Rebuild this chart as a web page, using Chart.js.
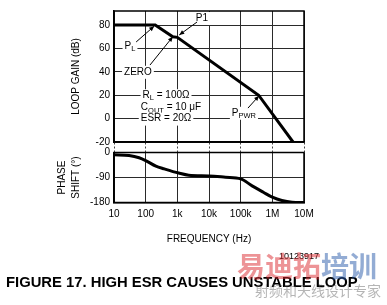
<!DOCTYPE html>
<html><head><meta charset="utf-8">
<script src="https://cdn.jsdelivr.net/npm/chart.js@4.4.1/dist/chart.umd.min.js"></script>
<style>
html,body{margin:0;padding:0;background:#fff}
body{width:387px;height:305px;overflow:hidden;position:relative;font-family:"Liberation Sans",Arial,sans-serif}
canvas{position:absolute;left:0;top:0}
.t{position:absolute;white-space:nowrap;line-height:1}
#num{left:279px;top:252px;font-size:9px;color:#000}
#fig{left:6px;top:275px;font-size:14.8px;font-weight:bold;color:#000}
#wm1{left:237px;top:251px;font-size:28px;font-weight:bold;color:rgba(220,40,45,0.5);font-family:"Noto Sans CJK SC",sans-serif}
#wm1 span{color:rgba(40,90,170,0.5)}
#wm2{left:255px;top:283px;font-size:14px;color:rgba(90,90,90,0.45);font-family:"Noto Sans CJK SC",sans-serif}
</style></head>
<body>
<canvas id="c1" width="387" height="305"></canvas>
<canvas id="c2" width="387" height="305"></canvas>
<div class="t" id="fig">FIGURE 17. HIGH ESR CAUSES UNSTABLE LOOP</div>
<div class="t" id="num">10123917</div>
<div class="t" id="wm1">易迪拓<span>培训</span></div>
<div class="t" id="wm2">射频和天线设计专家</div>
<script>
// ---- data ----
const freqTicks = [10, 100, 1e3, 1e4, 1e5, 1e6, 1e7];
const freqTickLabels = ['10', '100', '1k', '10k', '100k', '1M', '10M'];
const gainTicks = [-20, 0, 20, 40, 60, 80];
const phaseTicks = [-180, -90, 0];
const gainFreq = [10, 200, 720, 1000, 370000, 4500000];
const gainDb = [80, 80, 70, 69.5, 20, -20];
const phaseFreq = [10, 30, 62, 100, 210, 390, 1100, 2300, 10000, 33000, 100000, 230000, 520000, 1000000, 2000000, 4200000, 10000000];
const phaseDeg = [-8, -11, -19, -29, -49, -59, -74, -82, -84.5, -89, -95, -120, -143, -161, -173, -179, -180];

const FONT = "'Liberation Sans', Arial, sans-serif";
const gridColor = '#2a2a2a';

function frame(ctx, a) {
  ctx.save();
  ctx.strokeStyle = '#000';
  ctx.lineWidth = 1.5;
  ctx.strokeRect(a.left, a.top, a.right - a.left, a.bottom - a.top);
  ctx.restore();
}
const framePlugin = {
  id: 'frame',
  beforeDatasetsDraw(chart) { frame(chart.ctx, chart.chartArea); }
};

function rich(ctx, segs, cx, cy) {
  const main = '10px ' + FONT, sub = '7.5px ' + FONT;
  let w = 0;
  segs.forEach(s => { ctx.font = s[1] ? sub : main; s.w = ctx.measureText(s[0]).width; w += s.w; });
  ctx.fillStyle = '#fff';
  ctx.fillRect(cx - w / 2 - 2, cy - 6, w + 4, 13);
  let x = cx - w / 2;
  ctx.fillStyle = '#000';
  ctx.textBaseline = 'middle';
  ctx.textAlign = 'left';
  segs.forEach(s => {
    ctx.font = s[1] ? sub : main;
    ctx.fillText(s[0], x, cy + (s[1] ? 3 : 0));
    x += s.w;
  });
}
function arrow(ctx, x1, y1, x2, y2) {
  ctx.save();
  ctx.strokeStyle = '#000';
  ctx.fillStyle = '#000';
  ctx.lineWidth = 1;
  ctx.beginPath(); ctx.moveTo(x1, y1); ctx.lineTo(x2, y2); ctx.stroke();
  const a = Math.atan2(y2 - y1, x2 - x1), L = 5, W = 2.2;
  ctx.beginPath();
  ctx.moveTo(x2, y2);
  ctx.lineTo(x2 - L * Math.cos(a) + W * Math.sin(a), y2 - L * Math.sin(a) - W * Math.cos(a));
  ctx.lineTo(x2 - L * Math.cos(a) - W * Math.sin(a), y2 - L * Math.sin(a) + W * Math.cos(a));
  ctx.closePath(); ctx.fill();
  ctx.restore();
}

// annotations in data coordinates (freq, dB)
const labels = [
  { segs: [['P'], ['L', 1]], f: 32, v: 62 },
  { segs: [['ZERO']], f: 57, v: 40 },
  { segs: [['R'], ['L', 1], [' = 100\u03A9']], f: 440, v: 20 },
  { segs: [['C'], ['OUT', 1], [' = 10 \u03BCF']], f: 630, v: 9.5 },
  { segs: [['ESR = 20\u03A9']], f: 440, v: 0 },
  { segs: [['P1']], f: 6000, v: 86 },
  { segs: [['P'], ['PWR', 1]], f: 127000, v: 5 }
];
const arrows = [
  [50, 65.5, 185, 79],
  [137, 45.8, 720, 70],
  [4200, 82.6, 1150, 71.5],
  [170000, 9, 380000, 19.5]
];
const annotPlugin = {
  id: 'annot',
  afterDraw(chart) {
    const ctx = chart.ctx, xs = chart.scales.x, ys = chart.scales.y;
    ctx.save();
    labels.forEach(l => rich(ctx, l.segs.map(s => s.slice()), xs.getPixelForValue(l.f), ys.getPixelForValue(l.v)));
    arrows.forEach(a => arrow(ctx, xs.getPixelForValue(a[0]), ys.getPixelForValue(a[1]), xs.getPixelForValue(a[2]), ys.getPixelForValue(a[3])));
    ctx.restore();
  }
};

const tickFont = { family: FONT, size: 10 };

new Chart(document.getElementById('c1'), {
  type: 'line',
  data: { datasets: [{ data: gainFreq.map((f, i) => ({ x: f, y: gainDb[i] })), borderColor: '#000', borderWidth: 3, pointRadius: 0, tension: 0 }] },
  options: {
    responsive: false, animation: false, events: [],
    layout: { padding: { top: 11, right: 83, bottom: 153, left: 0 } },
    plugins: { legend: { display: false }, tooltip: { enabled: false } },
    scales: {
      x: {
        type: 'logarithmic', min: 10, max: 1e7,
        afterBuildTicks: s => { s.ticks = freqTicks.map(v => ({ value: v })); },
        afterFit: s => { s.height = 10; },
        ticks: { display: false },
        grid: { color: gridColor, lineWidth: 1, drawTicks: true, tickLength: 10, tickBorderDash: [2, 2], tickColor: '#444', tickWidth: 1 },
        border: { color: '#000', width: 1.5 }
      },
      y: {
        min: -20, max: 92,
        afterBuildTicks: s => { s.ticks = gainTicks.map(v => ({ value: v })); },
        afterFit: s => { s.width = 114; },
        ticks: { padding: 4, color: '#000', font: tickFont },
        grid: { color: gridColor, lineWidth: 1, drawTicks: false },
        border: { color: '#000', width: 1.5 },
        title: { display: true, text: 'LOOP GAIN (dB)', color: '#000', font: { family: FONT, size: 10 }, padding: { top: 70, bottom: 0 } }
      }
    }
  },
  plugins: [framePlugin, annotPlugin]
});

new Chart(document.getElementById('c2'), {
  type: 'line',
  data: { datasets: [{ data: phaseFreq.map((f, i) => ({ x: f, y: phaseDeg[i] })), borderColor: '#000', borderWidth: 3, pointRadius: 0, cubicInterpolationMode: 'monotone' }] },
  options: {
    responsive: false, animation: false, events: [],
    layout: { padding: { top: 152.5, right: 83, bottom: 0, left: 0 } },
    plugins: { legend: { display: false }, tooltip: { enabled: false } },
    scales: {
      x: {
        type: 'logarithmic', min: 10, max: 1e7,
        afterBuildTicks: s => { s.ticks = freqTicks.map(v => ({ value: v })); },
        afterFit: s => { s.height = 102.5; },
        ticks: { padding: 6, color: '#000', font: tickFont, maxRotation: 0, autoSkip: false,
                 callback: v => { const i = freqTicks.indexOf(v); return i >= 0 ? freqTickLabels[i] : ''; } },
        grid: { color: gridColor, lineWidth: 1, drawTicks: false },
        border: { color: '#000', width: 1.5 },
        title: { display: true, text: 'FREQUENCY (Hz)', color: '#000', font: { family: FONT, size: 10 }, padding: { top: 0, bottom: 60 } }
      },
      y: {
        min: -180, max: 0,
        afterBuildTicks: s => { s.ticks = phaseTicks.map(v => ({ value: v })); },
        afterFit: s => { s.width = 114; },
        ticks: { padding: 4, color: '#000', font: tickFont },
        grid: { color: gridColor, lineWidth: 1, drawTicks: false },
        border: { color: '#000', width: 1.5 },
        title: { display: true, text: ['PHASE', 'SHIFT (\u00B0)'], color: '#000', font: { family: FONT, size: 10, lineHeight: 1.4 }, padding: { top: 55, bottom: 0 } }
      }
    }
  },
  plugins: [framePlugin]
});
</script>
</body></html>
